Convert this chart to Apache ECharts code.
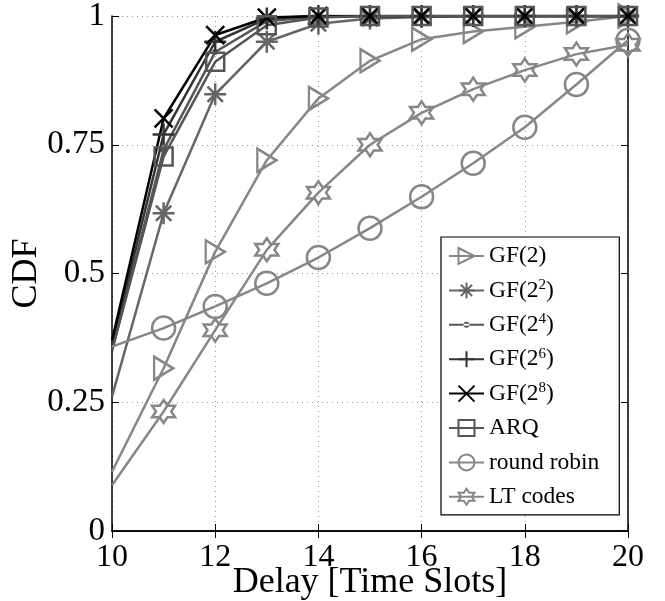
<!DOCTYPE html>
<html>
<head>
<meta charset="utf-8">
<script src="https://cdn.jsdelivr.net/npm/echarts@6/dist/echarts.min.js"></script>
<style>
    html, body { margin: 0; padding: 0; background: #fff; }
    #cdf-chart { width: 665px; height: 601px; }
</style>
</head>
<body>
<div id="cdf-chart"></div>
<script>
// delay in time slots
const delays = [10, 11, 12, 13, 14, 15, 16, 17, 18, 19, 20];
// CDF values
const gf2 = [0.115, 0.316, 0.542, 0.720, 0.840, 0.913, 0.955, 0.970, 0.979, 0.989, 1.0];
const gf2e2 = [0.261, 0.617, 0.848, 0.950, 0.985, 0.995, 0.998, 1, 1, 1, 1];
const gf2e4 = [0.350, 0.740, 0.930, 0.990, 0.999, 1, 1, 1, 1, 1, 1];
const gf2e6 = [0.360, 0.770, 0.950, 0.995, 1, 1, 1, 1, 1, 1, 1];
const gf2e8 = [0.370, 0.801, 0.963, 0.997, 1, 1, 1, 1, 1, 1, 1];
const arq = [0.350, 0.727, 0.911, 0.982, 0.997, 1, 1, 1, 1, 1, 1];
const roundRobin = [0.358, 0.394, 0.436, 0.481, 0.531, 0.588, 0.649, 0.714, 0.784, 0.867, 0.953];
const ltCodes = [0.089, 0.232, 0.390, 0.546, 0.657, 0.750, 0.812, 0.858, 0.895, 0.926, 0.944];
const xTicks = [10, 12, 14, 16, 18, 20];
const yTicks = [0, 0.25, 0.5, 0.75, 1];

const FONT = 'Liberation Serif';

// marker shapes (MATLAB style)
const triRight = 'path://M0,0 L17,10 L0,20 Z';
const asterisk = 'path://M-10,0 L10,0 M0,-10 L0,10 M-7,-7 L7,7 M-7,7 L7,-7';
const plus = 'path://M-10,0 L10,0 M0,-10 L0,10';
const cross = 'path://M-7,-7 L7,7 M-7,7 L7,-7';
const hexagram = 'path://M0,-10 L2.89,-5 L8.66,-5 L5.77,0 L8.66,5 L2.89,5 L0,10 L-2.89,5 L-8.66,5 L-5.77,0 L-8.66,-5 L-2.89,-5 Z';
// legend icon for the point marker: line with a small dot
const dotLegendIcon = 'path://M0,9 L35,9 L35,11 L0,11 Z M14.5,10 A3,3 0 1,0 20.5,10 A3,3 0 1,0 14.5,10 Z';

function toPoints(values) {
    return values.map(function (v, i) {
        let p = { value: [delays[i], v] };
        // no marker at the clipped left edge
        if (i === 0) {
            p.symbol = 'none';
        }
        return p;
    });
}

function makeSeries(name, values, color, symbol, size, filled) {
    return {
        name: name,
        type: 'line',
        data: toPoints(values),
        symbol: symbol,
        symbolSize: size,
        showAllSymbol: true,
        clip: true,
        lineStyle: { color: color, width: 2.5 },
        itemStyle: {
            color: filled ? color : 'rgba(0,0,0,0)',
            borderColor: color,
            borderWidth: filled ? 0 : 2.5
        },
        emphasis: { disabled: true },
        animation: false,
        z: 2
    };
}

const series = [
    makeSeries('GF(2)', gf2, '#878787', triRight, [19, 23], false),
    makeSeries('GF(2^2)', gf2e2, '#666666', asterisk, 22, false),
    makeSeries('GF(2^4)', gf2e4, '#555555', 'circle', 6, true),
    makeSeries('GF(2^6)', gf2e6, '#333333', plus, 22, false),
    makeSeries('GF(2^8)', gf2e8, '#000000', cross, 18, false),
    makeSeries('ARQ', arq, '#555555', 'rect', 18, false),
    makeSeries('round robin', roundRobin, '#878787', 'circle', 23, false),
    makeSeries('LT codes', ltCodes, '#878787', hexagram, 23, false)
];

let legendData = series.map(function (s) {
    if (s.name === 'GF(2^4)') {
        return { name: s.name, icon: dotLegendIcon };
    }
    return { name: s.name };
});

const axisLine = { show: true, lineStyle: { color: '#000', width: 1.5 } };
const axisTick = { show: true, inside: true, length: 7, lineStyle: { color: '#000', width: 1 } };

const option = {
    backgroundColor: '#fff',
    animation: false,
    grid: { left: 112, right: 37, top: 16, bottom: 70, containLabel: false, outerBoundsMode: 'none' },
    legend: {
        orient: 'vertical',
        left: 441,
        top: 237,
        padding: [6, 20, 5, 7],
        itemGap: 8.4,
        itemWidth: 35,
        itemHeight: 20,
        backgroundColor: '#fff',
        borderColor: '#000',
        borderWidth: 1.2,
        borderRadius: 0,
        selectedMode: false,
        data: legendData,
        formatter: function (name) {
            return name.replace(/\^(\d)/, '{sup|$1}');
        },
        textStyle: {
            fontFamily: FONT,
            fontSize: 23.5,
            lineHeight: 26,
            color: '#000',
            rich: {
                sup: { fontFamily: FONT, fontSize: 15, verticalAlign: 'top', lineHeight: 24, color: '#000' }
            }
        }
    },
    xAxis: [{
        type: 'value',
        min: 10,
        max: 20,
        interval: 2,
        name: 'Delay [Time Slots]',
        nameLocation: 'middle',
        nameGap: 34,
        nameMoveOverlap: false,
        nameTextStyle: { fontFamily: FONT, fontSize: 36, color: '#000' },
        axisLine: axisLine,
        axisTick: axisTick,
        axisLabel: { fontFamily: FONT, fontSize: 32, color: '#000', margin: 11 },
        splitLine: { show: true, lineStyle: { color: '#9a9a9a', type: [1, 4], width: 1 } }
    }, {
        type: 'value',
        position: 'top',
        min: 10,
        max: 20,
        interval: 2,
        axisLine: axisLine,
        axisTick: axisTick,
        axisLabel: { show: false },
        splitLine: { show: false }
    }],
    yAxis: [{
        type: 'value',
        min: 0,
        max: 1,
        interval: 0.25,
        name: 'CDF',
        nameLocation: 'middle',
        nameGap: 67,
        nameMoveOverlap: false,
        nameTextStyle: { fontFamily: FONT, fontSize: 36, color: '#000' },
        axisLine: axisLine,
        axisTick: axisTick,
        axisLabel: {
            fontFamily: FONT, fontSize: 33, color: '#000', margin: 7,
            formatter: function (v) { return yTicks.indexOf(v) >= 0 ? String(v) : ''; }
        },
        splitLine: { show: true, lineStyle: { color: '#9a9a9a', type: [1, 4], width: 1 } }
    }, {
        type: 'value',
        position: 'right',
        min: 0,
        max: 1,
        interval: 0.25,
        axisLine: axisLine,
        axisTick: axisTick,
        axisLabel: { show: false },
        splitLine: { show: false }
    }],
    series: series
};

let chart = echarts.init(document.getElementById('cdf-chart'), null, { renderer: 'canvas' });
chart.setOption(option);
</script>
</body>
</html>
